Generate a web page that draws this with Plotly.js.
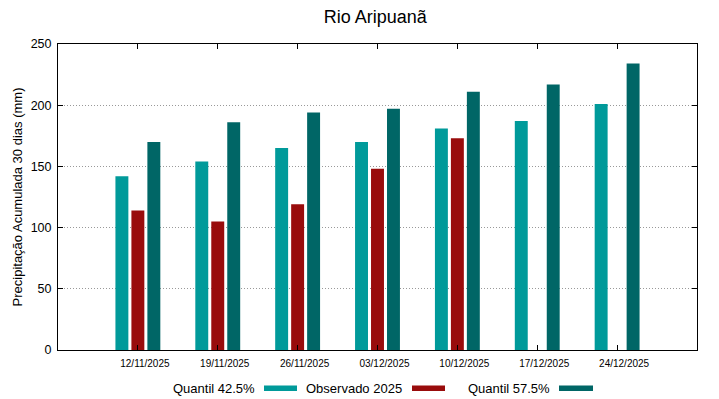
<!DOCTYPE html>
<html>
<head>
<meta charset="utf-8">
<script src="https://cdn.plot.ly/plotly-3.0.1.min.js"></script>
<style>html,body{margin:0;padding:0;background:#fff;}#chart{width:719px;height:399px;}</style>
</head>
<body>
<div id="chart"></div>
<script>
const dates = ["12/11/2025","19/11/2025","26/11/2025","03/12/2025","10/12/2025","17/12/2025","24/12/2025"];
const quantil425 = [142, 154, 165, 170, 181, 187, 201];
const observado2025 = [114, 105, 119, 148, 173, null, null];
const quantil575 = [170, 186, 194, 197, 211, 217, 234];
const seriesNames = ["Quantil 42.5%", "Observado 2025", "Quantil 57.5%"];
const seriesColors = ["#009a9a", "#990c0c", "#006666"];

const xIdx = dates.map((d, i) => i);
const font = "Liberation Sans, Arial, sans-serif";

const traces = [quantil425, observado2025, quantil575].map((vals, k) => ({
  type: "bar",
  x: xIdx,
  y: vals,
  name: seriesNames[k],
  marker: {color: seriesColors[k], line: {width: 0}},
  showlegend: false
}));

// legend drawn gnuplot-style: text then swatch
const legendText = [
  {text: seriesNames[0], x: 257, sx0: 264, sx1: 297},
  {text: seriesNames[1], x: 404, sx0: 412, sx1: 445},
  {text: seriesNames[2], x: 552, sx0: 559, sx1: 593}
];
const W = 719, ml = 58, mr = 22, pw = W - ml - mr;
const toPaper = px => (px - ml) / pw;
const annotations = legendText.map(l => ({
  xref: "paper", yref: "paper", x: toPaper(l.x), y: -0.125,
  xanchor: "right", yanchor: "middle", showarrow: false,
  text: l.text, font: {family: font, size: 13, color: "#000"}
}));
const shapes = legendText.map((l, k) => ({
  type: "rect", xref: "paper", yref: "paper",
  x0: toPaper(l.sx0), x1: toPaper(l.sx1),
  y0: -0.125 - 0.009, y1: -0.125 + 0.009,
  fillcolor: seriesColors[k], line: {width: 0}
}));

const layout = {
  width: 719, height: 399,
  margin: {l: 58, r: 22, t: 44, b: 49},
  paper_bgcolor: "#fff", plot_bgcolor: "#fff",
  font: {family: font, color: "#000"},
  title: {text: "Rio Aripuanã", font: {family: font, size: 18, color: "#000"}, x: 0.522, xref: "container", y: 0.957, yanchor: "middle"},
  barmode: "group",
  bargap: 0.4,
  bargroupgap: 0.19,
  xaxis: {
    range: [-1, 7],
    tickmode: "array", tickvals: xIdx, ticktext: dates,
    ticks: "inside", ticklen: 5, tickcolor: "#000", tickwidth: 1,
    ticklabelshift: 7, ticklabelstandoff: 4,
    showline: true, linecolor: "#000", linewidth: 1, mirror: "ticks",
    showgrid: false, zeroline: false,
    tickfont: {family: font, size: 10, color: "#000"}
  },
  yaxis: {
    range: [0, 250], tickvals: [0, 50, 100, 150, 200, 250],
    ticks: "inside", ticklen: 5, tickcolor: "#000", tickwidth: 1,
    showline: true, linecolor: "#000", linewidth: 1, mirror: "ticks",
    showgrid: true, gridcolor: "#999999", griddash: "1px,2px", gridwidth: 1,
    zeroline: false,
    tickfont: {family: font, size: 12.5, color: "#000"},
    ticklabelstandoff: 3,
    title: {text: "Precipitação Acumulada 30 dias (mm)", font: {family: font, size: 13, color: "#000"}, standoff: 5}
  },
  annotations: annotations,
  shapes: shapes,
  showlegend: false
};

Plotly.newPlot("chart", traces, layout, {staticPlot: true, displayModeBar: false});
</script>
</body>
</html>
